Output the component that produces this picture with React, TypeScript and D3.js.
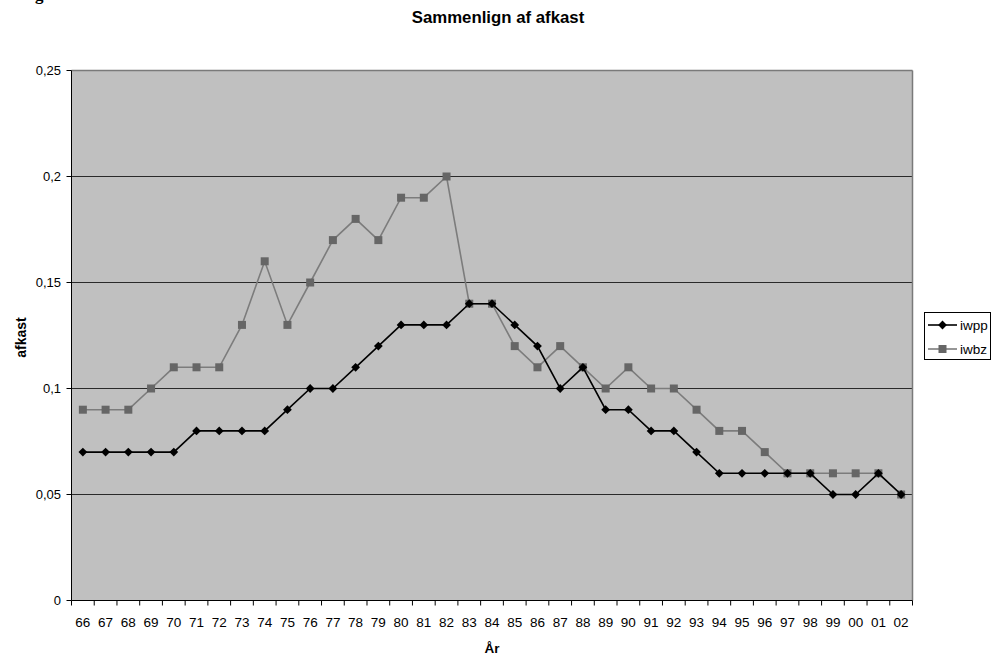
import React from "react";
import * as d3 from "d3";

// Years on the category axis (two-digit labels)
const years: string[] = [
  "66", "67", "68", "69", "70", "71", "72", "73", "74", "75", "76", "77", "78",
  "79", "80", "81", "82", "83", "84", "85", "86", "87", "88", "89", "90", "91",
  "92", "93", "94", "95", "96", "97", "98", "99", "00", "01", "02",
];

// Series values (afkast)
const iwpp: number[] = [
  0.07, 0.07, 0.07, 0.07, 0.07, 0.08, 0.08, 0.08, 0.08, 0.09, 0.1, 0.1, 0.11,
  0.12, 0.13, 0.13, 0.13, 0.14, 0.14, 0.13, 0.12, 0.1, 0.11, 0.09, 0.09, 0.08,
  0.08, 0.07, 0.06, 0.06, 0.06, 0.06, 0.06, 0.05, 0.05, 0.06, 0.05,
];
const iwbz: number[] = [
  0.09, 0.09, 0.09, 0.1, 0.11, 0.11, 0.11, 0.13, 0.16, 0.13, 0.15, 0.17, 0.18,
  0.17, 0.19, 0.19, 0.2, 0.14, 0.14, 0.12, 0.11, 0.12, 0.11, 0.1, 0.11, 0.1,
  0.1, 0.09, 0.08, 0.08, 0.07, 0.06, 0.06, 0.06, 0.06, 0.06, 0.05,
];

// Y-axis tick values and labels (Danish decimal comma)
const yTicks: number[] = [0, 0.05, 0.1, 0.15, 0.2, 0.25];
const yTickLabels: string[] = ["0", "0,05", "0,1", "0,15", "0,2", "0,25"];

const seriesNames: string[] = ["iwpp", "iwbz"];

const W = 992;
const H = 655;
const FONT = "'Liberation Sans', Arial, Helvetica, sans-serif";

export default function App() {
  const left = 71.5;
  const right = 912.5;
  const top = 70.5;
  const bottom = 600.5;

  const x = d3.scaleBand<string>().domain(years).range([left, right]);
  const y = d3.scaleLinear().domain([0, 0.25]).range([bottom, top]);
  const cx = (i: number) => (x(years[i]) as number) + x.bandwidth() / 2;

  const line = d3
    .line<number>()
    .x((_, i) => cx(i))
    .y((d) => y(d));

  const diamond = (px: number, py: number, r: number) =>
    `M${px},${py - r}L${px + r},${py}L${px},${py + r}L${px - r},${py}Z`;

  const bandEdges = years.map((yr) => x(yr) as number).concat([right]);

  const legendX = 924.5;
  const legendY = 312.5;
  const legendRows = [325, 349];

  return (
    <svg
      width={W}
      height={H}
      style={{ position: "absolute", left: 0, top: 0, background: "#fff" }}
      fontFamily={FONT}
    >
      {/* heading fragment above the chart */}
      <text x={35} y={0} fontFamily="'Liberation Serif', 'Times New Roman', serif" fontWeight="bold" fontSize={17}>
        g
      </text>

      {/* title */}
      <text x={498} y={23} textAnchor="middle" fontWeight="bold" fontSize={16.8}>
        Sammenlign af afkast
      </text>

      {/* plot area */}
      <rect x={left} y={top} width={right - left} height={bottom - top} fill="#c0c0c0" />

      {/* horizontal gridlines */}
      {yTicks.slice(1, -1).map((t) => (
        <line key={t} x1={left} x2={right} y1={y(t)} y2={y(t)} stroke="#2a2a2a" strokeWidth={1} />
      ))}

      {/* plot border: top and right */}
      <line x1={left} x2={right} y1={top} y2={top} stroke="#7a7a7a" strokeWidth={1.5} />
      <line x1={right} x2={right} y1={top} y2={bottom} stroke="#7a7a7a" strokeWidth={1.5} />

      {/* y axis */}
      <line x1={left} x2={left} y1={top} y2={bottom} stroke="#000" strokeWidth={1} />
      {yTicks.map((t, i) => (
        <g key={t}>
          <line x1={left - 5} x2={left} y1={y(t)} y2={y(t)} stroke="#000" />
          <text x={61} y={y(t) + 4.5} textAnchor="end" fontSize={13}>
            {yTickLabels[i]}
          </text>
        </g>
      ))}

      {/* x axis */}
      <line x1={left} x2={right} y1={bottom} y2={bottom} stroke="#000" strokeWidth={1} />
      {bandEdges.map((e, i) => (
        <line key={i} x1={e} x2={e} y1={bottom} y2={bottom + 5} stroke="#000" />
      ))}
      {years.map((yr, i) => (
        <text key={yr} x={cx(i)} y={627} textAnchor="middle" fontSize={13.5}>
          {yr}
        </text>
      ))}

      {/* axis titles */}
      <text x={492} y={653} textAnchor="middle" fontWeight="bold" fontSize={13.5}>
        År
      </text>
      <text
        transform={`translate(25.5, ${(top + bottom) / 2 + 2}) rotate(-90)`}
        textAnchor="middle"
        fontWeight="bold"
        fontSize={14}
      >
        afkast
      </text>

      {/* iwbz series */}
      <path d={line(iwbz) || ""} fill="none" stroke="#7c7c7c" strokeWidth={1.6} />
      {iwbz.map((v, i) => (
        <rect key={i} x={cx(i) - 4} y={y(v) - 4} width={8} height={8} fill="#666666" />
      ))}

      {/* iwpp series */}
      <path d={line(iwpp) || ""} fill="none" stroke="#000" strokeWidth={1.6} />
      {iwpp.map((v, i) => (
        <path key={i} d={diamond(cx(i), y(v), 4.4)} fill="#000" />
      ))}

      {/* legend */}
      <rect x={legendX} y={legendY} width={66} height={47} fill="#fff" stroke="#000" strokeWidth={1} />
      <line x1={928} x2={957} y1={legendRows[0]} y2={legendRows[0]} stroke="#000" strokeWidth={1.6} />
      <path d={diamond(942.5, legendRows[0], 4.4)} fill="#000" />
      <text x={960} y={legendRows[0] + 5} fontSize={13.5}>
        {seriesNames[0]}
      </text>
      <line x1={928} x2={957} y1={legendRows[1]} y2={legendRows[1]} stroke="#7c7c7c" strokeWidth={1.6} />
      <rect x={938.5} y={legendRows[1] - 4} width={8} height={8} fill="#666666" />
      <text x={960} y={legendRows[1] + 5} fontSize={13.5}>
        {seriesNames[1]}
      </text>
    </svg>
  );
}
